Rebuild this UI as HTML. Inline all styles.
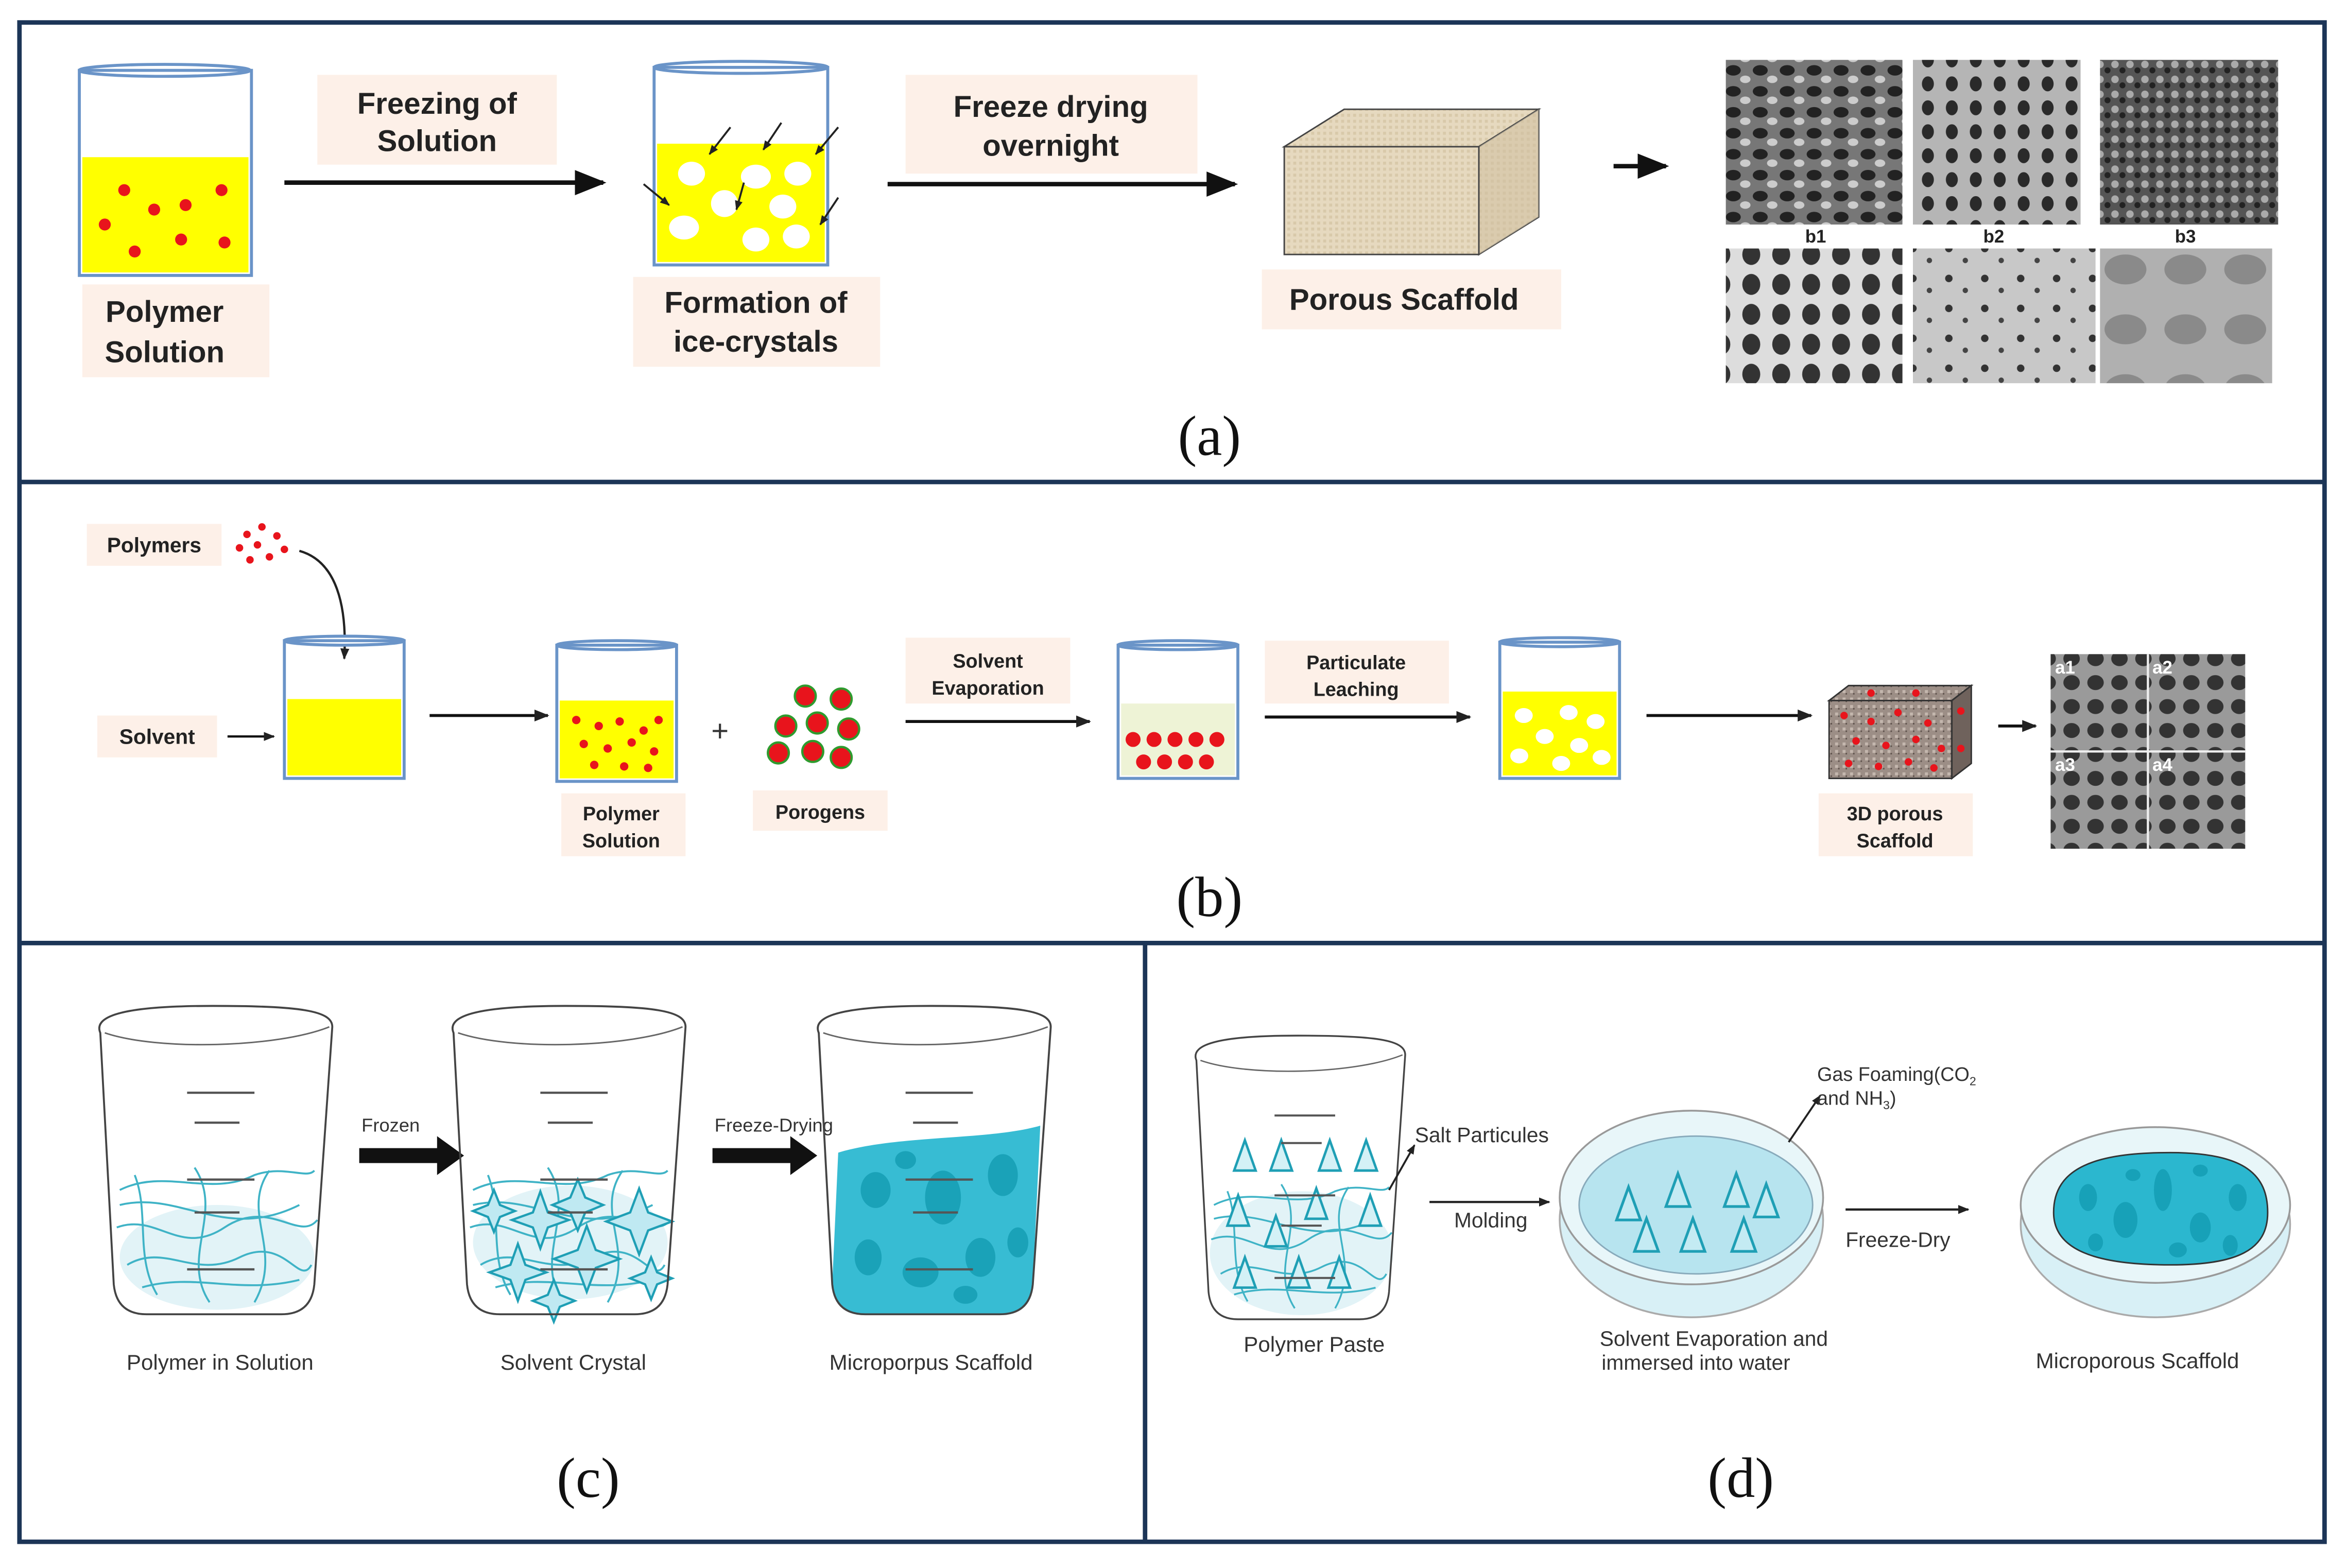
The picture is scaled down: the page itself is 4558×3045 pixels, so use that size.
<!DOCTYPE html>
<html><head><meta charset="utf-8"><style>
html,body{margin:0;padding:0;background:#fff}
svg{display:block}
.lb{font-family:"Liberation Sans",sans-serif;font-weight:bold;fill:#222}
.lr{font-family:"Liberation Sans",sans-serif;fill:#333}
.pl{font-family:"Liberation Serif",serif;fill:#111}
</style></head><body>
<svg width="4558" height="3045" viewBox="0 0 1568 1047.5" xmlns="http://www.w3.org/2000/svg">
<defs>
<marker id="ah" viewBox="0 0 10 10" refX="9" refY="5" markerWidth="7" markerHeight="7" orient="auto"><path d="M0,1 L10,5 L0,9 z" fill="#111"/></marker>
<marker id="ahs" viewBox="0 0 10 10" refX="9" refY="5" markerWidth="5" markerHeight="5" orient="auto"><path d="M0,1 L10,5 L0,9 z" fill="#222"/></marker>
<pattern id="burlap" width="4" height="4" patternUnits="userSpaceOnUse"><rect width="4" height="4" fill="#e6d9bf"/><rect width="2" height="2" fill="#d8c9aa"/></pattern>
<pattern id="grit" width="5" height="5" patternUnits="userSpaceOnUse"><rect width="5" height="5" fill="#9c8e86"/><rect x="1" y="1" width="2" height="2" fill="#c4b7ae"/><rect x="3" y="3" width="1" height="1" fill="#5e524c"/></pattern>
<pattern id="sem1" width="18" height="14" patternUnits="userSpaceOnUse"><rect width="18" height="14" fill="#777"/><ellipse cx="6" cy="5" rx="5" ry="3.5" fill="#222"/><ellipse cx="14" cy="11" rx="3.5" ry="2.5" fill="#ccc"/></pattern>
<pattern id="sem2" width="16" height="16" patternUnits="userSpaceOnUse"><rect width="16" height="16" fill="#b5b5b5"/><ellipse cx="8" cy="8" rx="4" ry="5" fill="#2a2a2a"/></pattern>
<pattern id="sem3" width="10" height="10" patternUnits="userSpaceOnUse"><rect width="10" height="10" fill="#555"/><circle cx="3" cy="3" r="2.5" fill="#aaa"/><circle cx="8" cy="7" r="2" fill="#222"/></pattern>
<pattern id="sem4" width="20" height="20" patternUnits="userSpaceOnUse"><rect width="20" height="20" fill="#ddd"/><ellipse cx="10" cy="10" rx="6" ry="7" fill="#333"/></pattern>
<pattern id="sem5" width="24" height="20" patternUnits="userSpaceOnUse"><rect width="24" height="20" fill="#c8c8c8"/><circle cx="6" cy="6" r="2.5" fill="#333"/><circle cx="17" cy="14" r="1.8" fill="#444"/></pattern>
<pattern id="sem6" width="40" height="40" patternUnits="userSpaceOnUse"><rect width="40" height="40" fill="#b0b0b0"/><ellipse cx="20" cy="20" rx="14" ry="10" fill="#8a8a8a"/></pattern>
<pattern id="semA" width="16" height="16" patternUnits="userSpaceOnUse"><rect width="16" height="16" fill="#9a9a9a"/><ellipse cx="8" cy="8" rx="5.5" ry="5" fill="#333"/></pattern>
<g id="bk">
<path d="M7,20 C2,8 25,2 82,2 C140,2 162,5 162,16 L150,188 Q148,208 128,208 L38,208 Q18,208 16,188 Z" fill="none" stroke="#444" stroke-width="1.3"/>
<path d="M10,20 C45,32 125,30 160,16" fill="none" stroke="#666" stroke-width="1"/>
<g stroke="#555" stroke-width="1.5"><line x1="65" y1="60" x2="110" y2="60"/><line x1="70" y1="80" x2="100" y2="80"/><line x1="65" y1="118" x2="110" y2="118"/><line x1="70" y1="140" x2="100" y2="140"/><line x1="65" y1="178" x2="110" y2="178"/></g>
</g>
<g id="fib" fill="none" stroke="#3fb3c6" stroke-width="1.3">
<path d="M20,125 C50,110 80,130 110,115 C130,108 145,118 150,112"/>
<path d="M18,150 C45,140 60,170 90,150 S140,160 152,145"/>
<path d="M25,175 C50,160 70,185 100,170 S140,190 148,175"/>
<path d="M30,115 C40,140 30,170 45,195"/>
<path d="M70,110 C90,140 60,170 80,200"/>
<path d="M120,112 C100,140 130,165 110,200"/>
<path d="M20,135 C60,125 90,160 140,135"/>
<path d="M35,190 C70,180 100,195 140,185"/>
</g>
</defs>
<rect width="1568" height="1047.5" fill="#fff"/>
<!-- frames -->
<g fill="none" stroke="#1c3557" stroke-width="3">
<rect x="13" y="15" width="1540" height="1015"/>
<line x1="13" y1="322" x2="1553" y2="322"/>
<line x1="13" y1="630" x2="1553" y2="630"/>
<line x1="765" y1="630" x2="765" y2="1030"/>
</g>

<!-- ===== (a) ===== -->
<ellipse cx="110" cy="47" rx="57" ry="4" fill="#fff" stroke="#6a94c8" stroke-width="2"/>
<rect x="53" y="47" width="115" height="137" fill="none" stroke="#6a94c8" stroke-width="2"/>
<rect x="55" y="105" width="111" height="77" fill="#ffff00"/>
<g fill="#e8141c"><circle cx="83" cy="127" r="4"/><circle cx="103" cy="140" r="4"/><circle cx="124" cy="137" r="4"/><circle cx="148" cy="127" r="4"/><circle cx="70" cy="150" r="4"/><circle cx="121" cy="160" r="4"/><circle cx="150" cy="162" r="4"/><circle cx="90" cy="168" r="4"/></g>
<rect x="55" y="190" width="125" height="62" fill="#fdf0e8"/>
<text x="110" y="215" text-anchor="middle" class="lb" font-size="20">Polymer</text>
<text x="110" y="242" text-anchor="middle" class="lb" font-size="20">Solution</text>
<rect x="212" y="50" width="160" height="60" fill="#fdf0e8"/>
<text x="292" y="76" text-anchor="middle" class="lb" font-size="20">Freezing of</text>
<text x="292" y="101" text-anchor="middle" class="lb" font-size="20">Solution</text>
<line x1="190" y1="122" x2="403" y2="122" stroke="#111" stroke-width="3" marker-end="url(#ah)"/>

<ellipse cx="495" cy="45" rx="58" ry="4" fill="#fff" stroke="#6a94c8" stroke-width="2"/>
<rect x="437" y="45" width="116" height="132" fill="none" stroke="#6a94c8" stroke-width="2"/>
<rect x="439" y="96" width="112" height="79" fill="#ffff00"/>
<g fill="#fff"><ellipse cx="462" cy="116" rx="9" ry="8"/><ellipse cx="505" cy="118" rx="10" ry="8"/><ellipse cx="533" cy="116" rx="9" ry="8"/><ellipse cx="484" cy="136" rx="9" ry="9"/><ellipse cx="523" cy="138" rx="9" ry="8"/><ellipse cx="457" cy="152" rx="10" ry="8"/><ellipse cx="505" cy="160" rx="9" ry="8"/><ellipse cx="532" cy="158" rx="9" ry="8"/></g>
<g stroke="#222" stroke-width="1.3" marker-end="url(#ahs)"><line x1="488" y1="85" x2="474" y2="103"/><line x1="522" y1="82" x2="510" y2="100"/><line x1="560" y1="85" x2="545" y2="103"/><line x1="430" y1="123" x2="447" y2="137"/><line x1="497" y1="122" x2="492" y2="140"/><line x1="560" y1="132" x2="548" y2="150"/></g>
<rect x="423" y="185" width="165" height="60" fill="#fdf0e8"/>
<text x="505" y="209" text-anchor="middle" class="lb" font-size="20">Formation of</text>
<text x="505" y="235" text-anchor="middle" class="lb" font-size="20">ice-crystals</text>
<rect x="605" y="50" width="195" height="66" fill="#fdf0e8"/>
<text x="702" y="78" text-anchor="middle" class="lb" font-size="20">Freeze drying</text>
<text x="702" y="104" text-anchor="middle" class="lb" font-size="20">overnight</text>
<line x1="593" y1="123" x2="825" y2="123" stroke="#111" stroke-width="3" marker-end="url(#ah)"/>

<polygon points="858,98 898,73 1028,73 988,98" fill="url(#burlap)" stroke="#444" stroke-width="1"/>
<polygon points="988,98 1028,73 1028,145 988,170" fill="#cdbd9d" stroke="#444" stroke-width="1"/>
<polygon points="988,98 1028,73 1028,145 988,170" fill="url(#burlap)" opacity="0.5"/>
<rect x="858" y="98" width="130" height="72" fill="url(#burlap)" stroke="#444" stroke-width="1"/>
<rect x="843" y="180" width="200" height="40" fill="#fdf0e8"/>
<text x="938" y="207" text-anchor="middle" class="lb" font-size="20">Porous Scaffold</text>
<line x1="1078" y1="111" x2="1113" y2="111" stroke="#111" stroke-width="3" marker-end="url(#ah)"/>

<rect x="1153" y="40" width="118" height="110" fill="url(#sem1)"/>
<rect x="1278" y="40" width="112" height="110" fill="url(#sem2)"/>
<rect x="1403" y="40" width="119" height="110" fill="url(#sem3)"/>
<text x="1213" y="162" text-anchor="middle" class="lb" font-size="12">b1</text>
<text x="1332" y="162" text-anchor="middle" class="lb" font-size="12">b2</text>
<text x="1460" y="162" text-anchor="middle" class="lb" font-size="12">b3</text>
<rect x="1153" y="166" width="118" height="90" fill="url(#sem4)"/>
<rect x="1278" y="166" width="122" height="90" fill="url(#sem5)"/>
<rect x="1403" y="166" width="115" height="90" fill="url(#sem6)"/>
<text x="808" y="304" text-anchor="middle" class="pl" font-size="38">(a)</text>

<!-- ===== (b) ===== -->
<rect x="58" y="350" width="90" height="28" fill="#fdf0e8"/>
<text x="103" y="369" text-anchor="middle" class="lb" font-size="14">Polymers</text>
<g fill="#e8141c"><circle cx="165" cy="357" r="2.5"/><circle cx="175" cy="352" r="2.5"/><circle cx="185" cy="358" r="2.5"/><circle cx="160" cy="366" r="2.5"/><circle cx="172" cy="364" r="2.5"/><circle cx="190" cy="367" r="2.5"/><circle cx="167" cy="374" r="2.5"/><circle cx="180" cy="372" r="2.5"/></g>
<path d="M200,368 C225,375 232,405 230,440" fill="none" stroke="#222" stroke-width="1.5" marker-end="url(#ahs)"/>
<rect x="65" y="478" width="80" height="28" fill="#fdf0e8"/>
<text x="105" y="497" text-anchor="middle" class="lb" font-size="14">Solvent</text>
<line x1="152" y1="492" x2="183" y2="492" stroke="#111" stroke-width="1.5" marker-end="url(#ahs)"/>
<ellipse cx="230" cy="428" rx="40" ry="3" fill="#fff" stroke="#6a94c8" stroke-width="2"/>
<rect x="190" y="428" width="80" height="92" fill="none" stroke="#6a94c8" stroke-width="2"/>
<rect x="192" y="467" width="76" height="51" fill="#ffff00"/>
<line x1="287" y1="478" x2="366" y2="478" stroke="#111" stroke-width="2" marker-end="url(#ahs)"/>
<ellipse cx="412" cy="431" rx="40" ry="3" fill="#fff" stroke="#6a94c8" stroke-width="2"/>
<rect x="372" y="431" width="80" height="91" fill="none" stroke="#6a94c8" stroke-width="2"/>
<rect x="374" y="468" width="76" height="52" fill="#ffff00"/>
<g fill="#e8141c"><circle cx="385" cy="481" r="2.8"/><circle cx="400" cy="485" r="2.8"/><circle cx="414" cy="482" r="2.8"/><circle cx="430" cy="488" r="2.8"/><circle cx="440" cy="481" r="2.8"/><circle cx="390" cy="497" r="2.8"/><circle cx="406" cy="500" r="2.8"/><circle cx="422" cy="496" r="2.8"/><circle cx="437" cy="502" r="2.8"/><circle cx="397" cy="511" r="2.8"/><circle cx="417" cy="512" r="2.8"/><circle cx="433" cy="513" r="2.8"/></g>
<rect x="375" y="530" width="83" height="42" fill="#fdf0e8"/>
<text x="415" y="548" text-anchor="middle" class="lb" font-size="13">Polymer</text>
<text x="415" y="566" text-anchor="middle" class="lb" font-size="13">Solution</text>
<text x="481" y="495" text-anchor="middle" class="lr" font-size="20">+</text>
<g fill="#e8141c" stroke="#2e9b2e" stroke-width="1.5"><circle cx="538" cy="465" r="7"/><circle cx="562" cy="467" r="7"/><circle cx="525" cy="485" r="7"/><circle cx="546" cy="483" r="7"/><circle cx="567" cy="487" r="7"/><circle cx="520" cy="503" r="7"/><circle cx="543" cy="502" r="7"/><circle cx="562" cy="506" r="7"/></g>
<rect x="503" y="528" width="90" height="27" fill="#fdf0e8"/>
<text x="548" y="547" text-anchor="middle" class="lb" font-size="13">Porogens</text>
<rect x="605" y="426" width="110" height="44" fill="#fdf0e8"/>
<text x="660" y="446" text-anchor="middle" class="lb" font-size="13">Solvent</text>
<text x="660" y="464" text-anchor="middle" class="lb" font-size="13">Evaporation</text>
<line x1="605" y1="482" x2="728" y2="482" stroke="#111" stroke-width="2" marker-end="url(#ahs)"/>
<ellipse cx="787" cy="431" rx="40" ry="3" fill="#fff" stroke="#6a94c8" stroke-width="2"/>
<rect x="747" y="431" width="80" height="89" fill="none" stroke="#6a94c8" stroke-width="2"/>
<rect x="749" y="470" width="76" height="48" fill="#eef3d6"/>
<g fill="#e8141c"><circle cx="757" cy="494" r="5"/><circle cx="771" cy="494" r="5"/><circle cx="785" cy="494" r="5"/><circle cx="799" cy="494" r="5"/><circle cx="813" cy="494" r="5"/><circle cx="764" cy="509" r="5"/><circle cx="778" cy="509" r="5"/><circle cx="792" cy="509" r="5"/><circle cx="806" cy="509" r="5"/></g>
<rect x="845" y="428" width="123" height="42" fill="#fdf0e8"/>
<text x="906" y="447" text-anchor="middle" class="lb" font-size="13">Particulate</text>
<text x="906" y="465" text-anchor="middle" class="lb" font-size="13">Leaching</text>
<line x1="845" y1="479" x2="982" y2="479" stroke="#111" stroke-width="2" marker-end="url(#ahs)"/>
<ellipse cx="1042" cy="429" rx="40" ry="3" fill="#fff" stroke="#6a94c8" stroke-width="2"/>
<rect x="1002" y="429" width="80" height="91" fill="none" stroke="#6a94c8" stroke-width="2"/>
<rect x="1004" y="462" width="76" height="56" fill="#ffff00"/>
<g fill="#fff"><ellipse cx="1018" cy="478" rx="6" ry="5"/><ellipse cx="1048" cy="476" rx="6" ry="5"/><ellipse cx="1066" cy="482" rx="6" ry="5"/><ellipse cx="1032" cy="492" rx="6" ry="5"/><ellipse cx="1055" cy="498" rx="6" ry="5"/><ellipse cx="1015" cy="505" rx="6" ry="5"/><ellipse cx="1043" cy="510" rx="6" ry="5"/><ellipse cx="1070" cy="506" rx="6" ry="5"/></g>
<line x1="1100" y1="478" x2="1210" y2="478" stroke="#111" stroke-width="2" marker-end="url(#ahs)"/>
<polygon points="1222,468 1235,458 1317,458 1304,468" fill="url(#grit)" stroke="#333"/>
<polygon points="1304,468 1317,458 1317,510 1304,520" fill="#6f625c" stroke="#333"/>
<rect x="1222" y="468" width="82" height="52" fill="url(#grit)" stroke="#333"/>
<g fill="#e8141c"><circle cx="1232" cy="478" r="2.5"/><circle cx="1250" cy="482" r="2.5"/><circle cx="1268" cy="476" r="2.5"/><circle cx="1288" cy="483" r="2.5"/><circle cx="1240" cy="495" r="2.5"/><circle cx="1260" cy="498" r="2.5"/><circle cx="1280" cy="494" r="2.5"/><circle cx="1297" cy="500" r="2.5"/><circle cx="1235" cy="510" r="2.5"/><circle cx="1255" cy="512" r="2.5"/><circle cx="1275" cy="509" r="2.5"/><circle cx="1292" cy="513" r="2.5"/><circle cx="1250" cy="463" r="2.5"/><circle cx="1280" cy="463" r="2.5"/><circle cx="1310" cy="475" r="2.5"/><circle cx="1310" cy="500" r="2.5"/></g>
<rect x="1215" y="530" width="103" height="42" fill="#fdf0e8"/>
<text x="1266" y="548" text-anchor="middle" class="lb" font-size="13">3D porous</text>
<text x="1266" y="566" text-anchor="middle" class="lb" font-size="13">Scaffold</text>
<line x1="1335" y1="485" x2="1360" y2="485" stroke="#111" stroke-width="2" marker-end="url(#ahs)"/>
<rect x="1370" y="437" width="130" height="130" fill="url(#semA)"/>
<line x1="1435" y1="437" x2="1435" y2="567" stroke="#eee" stroke-width="1.5"/>
<line x1="1370" y1="502" x2="1500" y2="502" stroke="#eee" stroke-width="1.5"/>
<g class="lb" font-size="12" style="fill:#fff"><text x="1373" y="450">a1</text><text x="1438" y="450">a2</text><text x="1373" y="515">a3</text><text x="1438" y="515">a4</text></g>
<text x="808" y="612" text-anchor="middle" class="pl" font-size="38">(b)</text>

<!-- ===== (c) ===== -->
<g transform="translate(60,670)"><ellipse cx="85" cy="170" rx="65" ry="35" fill="#e2f3f7"/><use href="#fib"/><use href="#bk"/></g>
<text x="147" y="915" text-anchor="middle" class="lr" font-size="14.5">Polymer in Solution</text>
<text x="261" y="756" text-anchor="middle" class="lr" font-size="12.5">Frozen</text>
<path d="M240,767 L292,767 L292,759 L310,772 L292,785 L292,777 L240,777 Z" fill="#111"/>
<g transform="translate(296,670)"><ellipse cx="85" cy="160" rx="65" ry="38" fill="#e2f3f7"/><use href="#fib"/>
<g fill="#bfe9f2" stroke="#1f9fb5" stroke-width="1.5">
<path d="M30,135 l4,-10 4,10 10,4 -10,4 -4,10 -4,-10 -10,-4z"/>
<path d="M60,140 l5,-14 5,14 14,5 -14,5 -5,14 -5,-14 -14,-5z"/>
<path d="M85,130 l5,-12 5,12 12,5 -12,5 -5,12 -5,-12 -12,-5z"/>
<path d="M125,140 l6,-16 6,16 16,6 -16,6 -6,16 -6,-16 -16,-6z"/>
<path d="M45,175 l5,-14 5,14 14,5 -14,5 -5,14 -5,-14 -14,-5z"/>
<path d="M90,165 l6,-16 6,16 16,6 -16,6 -6,16 -6,-16 -16,-6z"/>
<path d="M70,195 l4,-10 4,10 10,4 -10,4 -4,10 -4,-10 -10,-4z"/>
<path d="M135,180 l4,-10 4,10 10,4 -10,4 -4,10 -4,-10 -10,-4z"/>
</g><use href="#bk"/></g>
<text x="383" y="915" text-anchor="middle" class="lr" font-size="14.5">Solvent Crystal</text>
<text x="517" y="756" text-anchor="middle" class="lr" font-size="12.5">Freeze-Drying</text>
<path d="M476,767 L528,767 L528,759 L546,772 L528,785 L528,777 L476,777 Z" fill="#111"/>
<g transform="translate(540,670)">
<path d="M20,100 C60,88 120,92 155,82 L150,188 Q148,208 128,208 L38,208 Q18,208 16,188 Z" fill="#37bcd3"/>
<g fill="#1aa2b8"><ellipse cx="45" cy="125" rx="10" ry="12"/><ellipse cx="90" cy="130" rx="12" ry="18"/><ellipse cx="130" cy="115" rx="10" ry="14"/><ellipse cx="40" cy="170" rx="9" ry="12"/><ellipse cx="75" cy="180" rx="12" ry="10"/><ellipse cx="115" cy="170" rx="10" ry="13"/><ellipse cx="140" cy="160" rx="7" ry="10"/><ellipse cx="65" cy="105" rx="7" ry="6"/><ellipse cx="105" cy="195" rx="8" ry="6"/></g>
<use href="#bk"/></g>
<text x="622" y="915" text-anchor="middle" class="lr" font-size="14.5">Microporpus Scaffold</text>
<text x="393" y="1000" text-anchor="middle" class="pl" font-size="38">(c)</text>

<!-- ===== (d) ===== -->
<g transform="translate(793,690) scale(0.9,0.92)"><ellipse cx="85" cy="160" rx="68" ry="45" fill="#e2f3f7"/><use href="#fib"/>
<g fill="#d4f1f6" stroke="#1f9fb5" stroke-width="1.8">
<path d="M35,100 l8,-22 8,22z"/><path d="M62,100 l8,-22 8,22z"/><path d="M98,100 l8,-22 8,22z"/><path d="M125,100 l8,-22 8,22z"/>
<path d="M30,140 l8,-22 8,22z"/><path d="M58,155 l8,-22 8,22z"/><path d="M88,135 l8,-22 8,22z"/><path d="M128,140 l8,-22 8,22z"/>
<path d="M35,185 l8,-22 8,22z"/><path d="M75,185 l8,-22 8,22z"/><path d="M105,185 l8,-22 8,22z"/>
</g><use href="#bk"/></g>
<text x="878" y="903" text-anchor="middle" class="lr" font-size="14.5">Polymer Paste</text>
<line x1="928" y1="795" x2="945" y2="765" stroke="#222" stroke-width="1.3" marker-end="url(#ahs)"/>
<text x="990" y="763" text-anchor="middle" class="lr" font-size="14">Salt Particules</text>
<line x1="955" y1="803" x2="1035" y2="803" stroke="#222" stroke-width="1.5" marker-end="url(#ahs)"/>
<text x="996" y="820" text-anchor="middle" class="lr" font-size="14">Molding</text>
<ellipse cx="1130" cy="815" rx="88" ry="65" fill="#d8f0f6" stroke="#aaa" stroke-width="1.2"/>
<ellipse cx="1130" cy="800" rx="88" ry="58" fill="#e8f6f9" stroke="#999" stroke-width="1.2"/>
<ellipse cx="1133" cy="805" rx="78" ry="46" fill="#b7e4ef" stroke="#8ab" stroke-width="1"/>
<g fill="#c4ebf3" stroke="#1f9fb5" stroke-width="1.8"><path d="M1080,815 l8,-22 8,22z"/><path d="M1113,806 l8,-22 8,22z"/><path d="M1152,806 l8,-22 8,22z"/><path d="M1172,813 l8,-22 8,22z"/><path d="M1092,836 l8,-22 8,22z"/><path d="M1123,836 l8,-22 8,22z"/><path d="M1157,836 l8,-22 8,22z"/></g>
<line x1="1195" y1="763" x2="1216" y2="732" stroke="#222" stroke-width="1.3" marker-end="url(#ahs)"/>
<text x="1214" y="722" class="lr" font-size="13">Gas Foaming(CO<tspan font-size="8" dy="3">2</tspan></text>
<text x="1214" y="738" class="lr" font-size="13">and NH<tspan font-size="8" dy="3">3</tspan><tspan dy="-3">)</tspan></text>
<text x="1145" y="899" text-anchor="middle" class="lr" font-size="14">Solvent Evaporation and</text>
<text x="1133" y="915" text-anchor="middle" class="lr" font-size="14">immersed into water</text>
<line x1="1233" y1="808" x2="1315" y2="808" stroke="#222" stroke-width="1.5" marker-end="url(#ahs)"/>
<text x="1268" y="833" text-anchor="middle" class="lr" font-size="14">Freeze-Dry</text>
<ellipse cx="1440" cy="818" rx="90" ry="62" fill="#d8f0f6" stroke="#aaa" stroke-width="1.2"/>
<ellipse cx="1440" cy="805" rx="90" ry="52" fill="#e8f6f9" stroke="#999" stroke-width="1.2"/>
<path d="M1372,810 C1372,780 1400,770 1450,770 C1500,770 1515,785 1515,810 C1515,835 1495,845 1450,845 C1400,845 1372,835 1372,810 Z" fill="#2bb7cf" stroke="#333" stroke-width="1"/>
<g fill="#17a1b8"><ellipse cx="1395" cy="800" rx="6" ry="9"/><ellipse cx="1420" cy="815" rx="8" ry="12"/><ellipse cx="1445" cy="795" rx="6" ry="14"/><ellipse cx="1470" cy="820" rx="7" ry="10"/><ellipse cx="1495" cy="800" rx="6" ry="9"/><ellipse cx="1400" cy="830" rx="5" ry="6"/><ellipse cx="1455" cy="835" rx="6" ry="5"/><ellipse cx="1490" cy="832" rx="5" ry="7"/><ellipse cx="1425" cy="785" rx="5" ry="4"/><ellipse cx="1470" cy="782" rx="5" ry="4"/></g>
<text x="1428" y="914" text-anchor="middle" class="lr" font-size="14.5">Microporous Scaffold</text>
<text x="1163" y="1000" text-anchor="middle" class="pl" font-size="38">(d)</text>
</svg>
</body></html>
